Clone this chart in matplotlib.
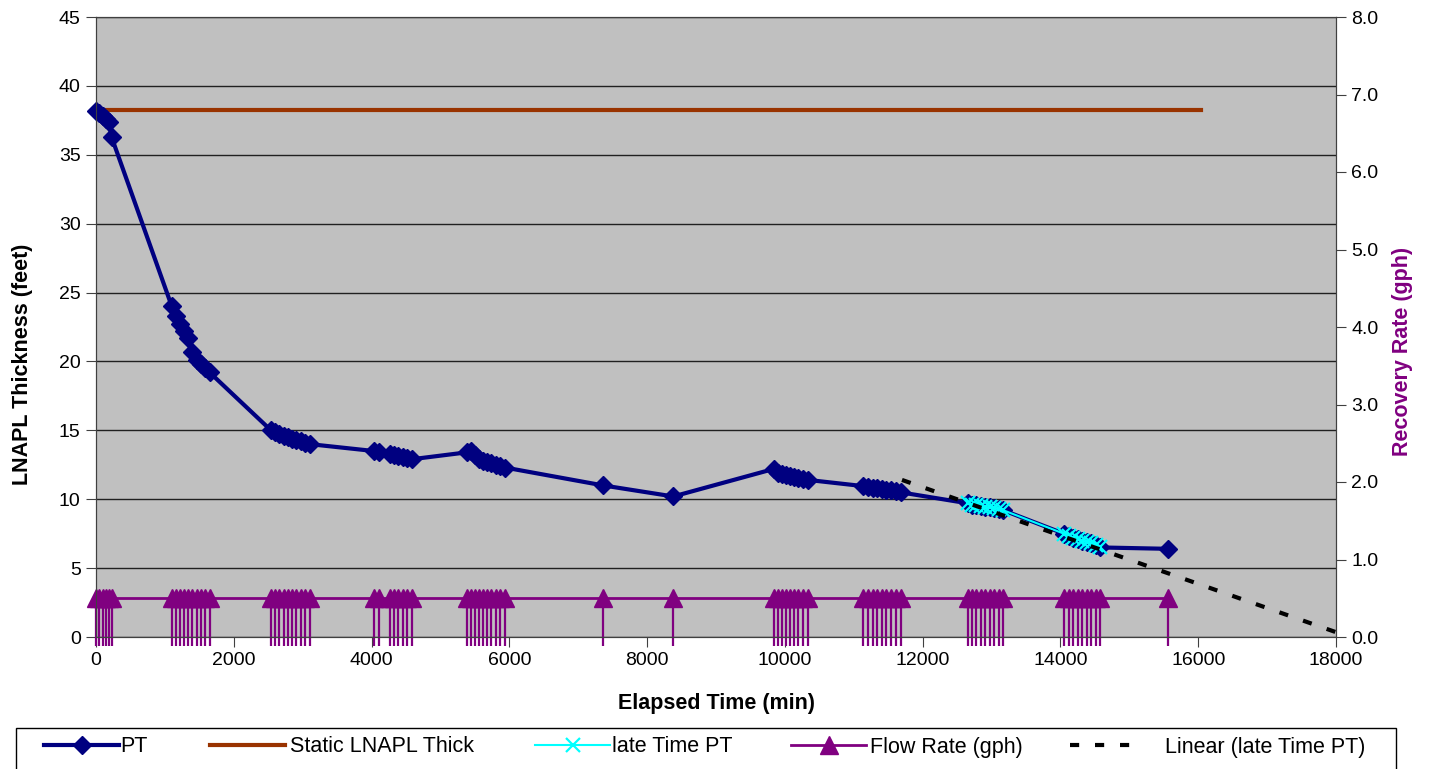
import matplotlib
matplotlib.use("Agg")
import matplotlib.pyplot as plt
from matplotlib.lines import Line2D
from matplotlib.patches import Rectangle

plt.rcParams['font.family'] = ['Liberation Sans', 'DejaVu Sans']

# elapsed time of each reading (min)
tempo = [0, 50, 95, 145, 190, 225,
         1100, 1160, 1220, 1280, 1340, 1400, 1460, 1520, 1580, 1650,
         2540, 2600, 2660, 2730, 2790, 2850, 2910, 2980, 3040, 3100,
         4030, 4110, 4270, 4330, 4390, 4450, 4510, 4580,
         5380, 5440, 5500, 5560, 5620, 5680, 5740, 5800, 5870, 5936,
         7364, 8380,
         9840, 9900, 9960, 10020, 10070, 10130, 10190, 10260, 10335,
         11140, 11210, 11280, 11340, 11410, 11470, 11540, 11610, 11680,
         12660, 12720, 12780, 12850, 12910, 12980, 13040, 13110, 13170,
         14050, 14120, 14180, 14250, 14310, 14380, 14440, 14510, 14575,
         15560]

# LNAPL thickness (feet)
pt = [38.2, 38.0, 37.8, 37.6, 37.4, 36.3,
      24.0, 23.3, 22.7, 22.2, 21.7, 20.7, 20.1, 19.8, 19.5, 19.2,
      15.0, 14.85, 14.7, 14.6, 14.5, 14.4, 14.3, 14.2, 14.1, 14.0,
      13.5, 13.4, 13.3, 13.2, 13.15, 13.1, 13.0, 12.9,
      13.4, 13.5, 13.2, 12.9, 12.8, 12.7, 12.6, 12.5, 12.4, 12.3,
      11.0, 10.2,
      12.2, 11.9, 11.8, 11.75, 11.7, 11.6, 11.55, 11.5, 11.4,
      10.95, 10.9, 10.85, 10.8, 10.75, 10.7, 10.65, 10.6, 10.5,
      9.7, 9.6, 9.55, 9.5, 9.45, 9.4, 9.35, 9.3, 9.2,
      7.5, 7.35, 7.2, 7.1, 7.0, 6.9, 6.8, 6.65, 6.5,
      6.4]

# late time PT (subset used for the linear fit)
tempo_late = tempo[64:82]
pt_late = pt[64:82]

# flow rate (gph)
vazao = [0.5] * len(tempo)

# static LNAPL thickness
tempo_static = [0, 16040]
static = [38.25, 38.25]

# linear trend (late Time PT), end points
tempo_trend = [11700, 18000]
trend = [11.4, 0.35]

fig = plt.figure(figsize=(14.29, 7.69), dpi=100)
ax = fig.add_axes([96/1429, 1-637/769, 1240/1429, 620/769])
ax2 = ax.twinx()

ax.set_facecolor('#C0C0C0')
ax.set_xlim(0, 18000)
ax.set_ylim(0, 45)
ax2.set_ylim(0, 8)
ax.set_xticks(range(0, 18001, 2000))
ax.set_yticks(range(0, 46, 5))
ax2.set_yticks([i * 1.0 for i in range(9)])
ax2.set_yticklabels([f'{i:.1f}' for i in range(9)])
ax.yaxis.grid(True, color='#202020', lw=1)
ax.set_axisbelow(True)

ax.plot(tempo_static, static, color='#993300', lw=3, zorder=3)
ax.plot(tempo, pt, color='#000080', lw=3, marker='D', ms=9, zorder=4, clip_on=False)
ax.plot(tempo_late, pt_late, color='#00FFFF', lw=1.5, marker='x', ms=10, mew=1.6, zorder=5)
ax.plot(tempo_trend, trend, color='black', lw=3, ls=(0, (2.2, 3.8)), zorder=6)

ax2.vlines(tempo, -0.12, vazao, color='#800080', lw=1.6, clip_on=False)
ax2.plot(tempo, vazao, color='#800080', lw=2, marker='^', ms=13, clip_on=False)

for a in (ax, ax2):
    for s in a.spines.values():
        s.set_color('#404040')
    a.tick_params(labelsize=14, length=7, pad=4, color='#404040')

ax.set_xlabel('Elapsed Time (min)', fontsize=15.5, fontweight='bold')
ax.xaxis.set_label_coords(0.5, -0.09)
ax.set_ylabel('LNAPL Thickness (feet)', fontsize=15.5, fontweight='bold')
ax.yaxis.set_label_coords(-0.051, 0.44)
ax2.set_ylabel('Recovery Rate (gph)', fontsize=15.5, fontweight='bold', color='#800080')
ax2.yaxis.set_label_coords(1.045, 0.46)

# legend box (bottom is cut by the figure edge)
fig.patches.append(Rectangle((16/1429, -0.05), 1380/1429, 0.05 + 41/769,
                             transform=fig.transFigure, fill=True, facecolor='white',
                             edgecolor='black', lw=1, clip_on=False))
handles = [
    Line2D([], [], color='#000080', lw=3, marker='D', ms=9),
    Line2D([], [], color='#993300', lw=3),
    Line2D([], [], color='#00FFFF', lw=1.5, marker='x', ms=10, mew=1.6),
    Line2D([], [], color='#800080', lw=2, marker='^', ms=13),
    Line2D([], [], color='black', lw=3, ls=(0, (2.2, 3.8))),
]
labels = ['PT', 'Static LNAPL Thick', 'late Time PT', 'Flow Rate (gph)', 'Linear (late Time PT)']
leg_x = [44, 210, 535, 791, 1070]
leg_pad = [0.05, 0.2, 0.1, 0.15, 0.9]
for h, l, x0, p in zip(handles, labels, leg_x, leg_pad):
    fig.legend([h], [l], loc='center left', bbox_to_anchor=(x0/1429, 1-747/769),
               frameon=False, fontsize=15.5, handlelength=3.5, handletextpad=p,
               borderpad=0, borderaxespad=0)

fig.savefig('out.png', dpi=100)
